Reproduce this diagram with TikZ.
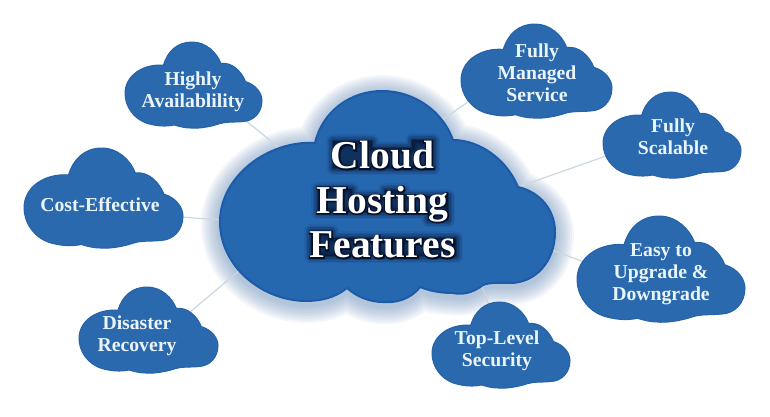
\documentclass[tikz,border=0pt]{standalone}
\usepackage{fontspec}
\setmainfont{Liberation Serif}
\newfontfamily\haloface[FakeBold=6]{Liberation Serif Bold}
\definecolor{cloudfill}{HTML}{2A69AE}
\definecolor{cloudedge}{HTML}{2562AA}
\definecolor{hubfill}{HTML}{2668B0}
\definecolor{hubedge}{HTML}{1D5AA7}
\definecolor{linkcol}{HTML}{CBD8E2}
\definecolor{halocol}{HTML}{6F93BE}
\definecolor{labelcol}{HTML}{EAF5FB}
\definecolor{glowcol}{HTML}{040E26}
\newcommand\smallcloud[4]{%
\begin{scope}[shift={(#1,#2)},x=#3pt,y=-#4pt]
\path[cloudbody] (0.28,0.27) .. controls (0.31,0.11) and (0.38,0) .. (0.49,0)
 .. controls (0.59,0) and (0.67,0.12) .. (0.70,0.25)
 .. controls (0.78,0.23) and (0.85,0.34) .. (0.88,0.46)
 .. controls (0.96,0.50) and (1,0.60) .. (1,0.68)
 .. controls (1,0.82) and (0.94,0.92) .. (0.86,0.925)
 .. controls (0.80,0.935) and (0.74,0.925) .. (0.69,0.95)
 .. controls (0.62,0.99) and (0.52,1.01) .. (0.48,1)
 .. controls (0.44,1.0) and (0.40,0.985) .. (0.36,0.965)
 .. controls (0.30,0.985) and (0.24,0.98) .. (0.17,0.95)
 .. controls (0.06,0.90) and (0,0.74) .. (0,0.60)
 .. controls (0,0.38) and (0.14,0.25) .. (0.28,0.27) -- cycle;
\end{scope}}
\newcommand\hubpath{(315,143) .. controls (322,112) and (350,91) .. (382,91)
 .. controls (415,91) and (443,112) .. (453,140)
 .. controls (480,140) and (507,160) .. (518,187)
 .. controls (540,192) and (555,210) .. (555,232)
 .. controls (555,262) and (535,283) .. (510,283)
 .. controls (500,283) and (491,282) .. (483,285)
 .. controls (473,293) and (462,295) .. (453,293)
 .. controls (441,293) and (430,291) .. (420,287)
 .. controls (410,300) and (395,303) .. (383,302)
 .. controls (370,302) and (357,297) .. (347,288)
 .. controls (335,298) and (320,301) .. (305,301)
 .. controls (260,300) and (220,265) .. (220,222)
 .. controls (220,175) and (270,140) .. (315,143) -- cycle}
\newcommand\glowpaths{(333,141) -- (372,141) -- (372,148) -- (412,148) -- (412,140) -- (433,140) -- (433,168) -- (333,168) -- cycle
 (318,189) -- (352,189) -- (352,196) -- (385,196) -- (385,190) -- (403,190) -- (403,196) -- (448,196) -- (448,220) -- (428,220) -- (428,212) -- (318,212) -- cycle
 (311,231) -- (332,231) -- (332,238) -- (456,238) -- (456,256) -- (311,256) -- cycle}
\tikzset{
 cloudbody/.style={fill=cloudfill,draw=cloudedge,line width=1pt,line join=round},
 label/.style={font=\fontsize{19.7}{22}\selectfont\bfseries,text=labelcol,align=center,inner sep=0pt},
 hubtext/.style={font=\fontsize{39.5}{44.5}\selectfont\bfseries,text=white,align=center,inner sep=0pt},
 hubshade/.style={font=\fontsize{39.5}{44.5}\selectfont\haloface,text=glowcol,align=center,inner sep=0pt},
 link/.style={draw=linkcol,line width=1.2pt}
}
\begin{document}
\begin{tikzpicture}[x=1pt,y=-1pt]
\useasboundingbox (0,0) rectangle (770,416);
\fill[white] (0,0) rectangle (770,416);
% halo
\begin{scope}[shift={(0,3)}]
\foreach \w in {38,34,30,26,22,18,14,10,6}{
 \draw[halocol,opacity=0.075,line width=\w pt,line join=round] \hubpath;}
\end{scope}
% connector ends
\coordinate (hubA) at (282,150);
\coordinate (hubB) at (224,220);
\coordinate (hubC) at (240,270);
\coordinate (hubD) at (442,120);
\coordinate (hubE) at (518,187);
\coordinate (hubF) at (552,250);
\coordinate (hubG) at (480,282);
\coordinate (portA) at (245,120);
\coordinate (portB) at (180,217);
\coordinate (portC) at (190,312);
\coordinate (portD) at (468,102);
\coordinate (portE) at (606,156);
\coordinate (portF) at (584,262);
\coordinate (portG) at (489,305);
\draw[link] (portA) -- (hubA);
\draw[link] (portB) -- (hubB);
\draw[link] (portC) -- (hubC);
\draw[link] (portD) -- (hubD);
\draw[link] (portE) -- (hubE);
\draw[link] (portF) -- (hubF);
\draw[link] (portG) -- (hubG);
% clouds
\draw[fill=hubfill,draw=hubedge,line width=2pt,line join=round] \hubpath;
\smallcloud{125}{42}{137}{86}
\smallcloud{24}{148}{159}{100}
\smallcloud{79}{287}{139}{86}
\smallcloud{461}{24}{151}{94}
\smallcloud{603}{92}{138}{86}
\smallcloud{577}{216}{168}{106}
\smallcloud{432}{302}{138}{86}
% glow behind the title
\foreach \w/\o in {14/0.08,11/0.11,8/0.15,5/0.2,2/0.25}{
 \path[fill=glowcol,draw=glowcol,fill opacity=\o,draw opacity=\o,line width=\w pt,line join=round] \glowpaths;}
% labels
\node[label] (high) at (193,92) {Highly\\Availablility};
\node[label] (cost) at (100,205) {Cost-Effective};
\node[label] (dis) at (137,336) {Disaster\\Recovery};
\node[label] (man) at (537,73) {Fully\\Managed\\Service};
\node[label] (scal) at (673,137) {Fully\\Scalable};
\node[label] (easy) at (661,274) {Easy to\\Upgrade \&\\Downgrade};
\node[label] (top) at (497,351) {Top-Level\\Security};
\node[hubshade] (hubshadow) at (382.5,200) {Cloud\\Hosting\\Features};
\node[hubtext] (hub) at (382.5,200) {Cloud\\Hosting\\Features};
\end{tikzpicture}
\end{document}
